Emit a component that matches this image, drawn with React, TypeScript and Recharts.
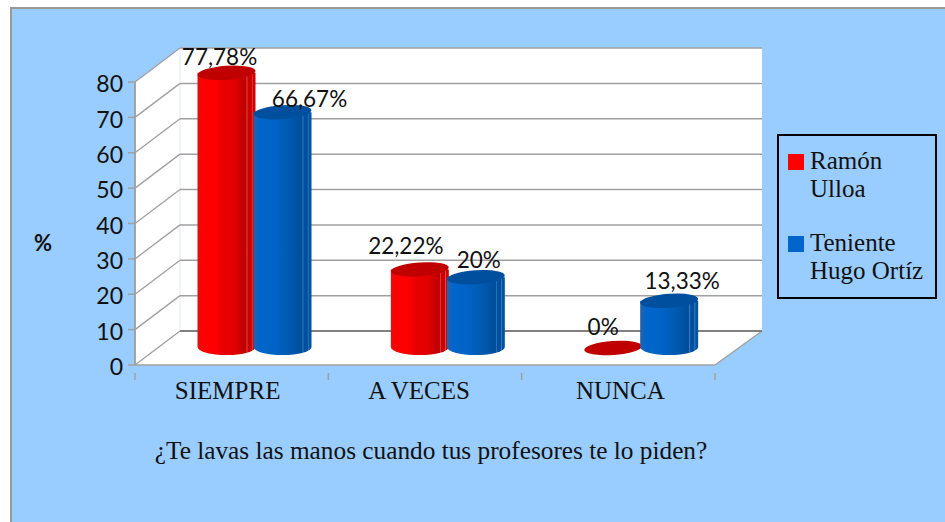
import { BarChart, Bar, XAxis, YAxis, CartesianGrid, Legend, LabelList } from 'recharts';

const categories = ['SIEMPRE', 'A VECES', 'NUNCA'];
const ramonUlloa = [77.78, 22.22, 0];
const tenienteHugo = [66.67, 20, 13.33];
const yTicks = [0, 10, 20, 30, 40, 50, 60, 70, 80];

const data = categories.map((name, i) => ({ name, ramon: ramonUlloa[i], hugo: tenienteHugo[i] }));

// 3D look: how far the back wall sits behind the front plane
const DEPTH_X = 45;
const DEPTH_Y = 34;
const GRID = '#a0a0a0';
const LATO = 'Lato, sans-serif';
const SERIF = '"Liberation Serif", serif';

function Walls({ x, y, width, height }: any) {
  const b = y + height;
  const r = x + width;
  const backR = r + DEPTH_X + 2;
  return (
    <g>
      <polygon
        points={`${x},${y} ${x + DEPTH_X},${y - DEPTH_Y} ${backR},${y - DEPTH_Y} ${backR},${b - DEPTH_Y} ${r},${b} ${x},${b}`}
        fill="#fff"
      />
      <line x1={x + DEPTH_X} y1={y - DEPTH_Y} x2={x + DEPTH_X} y2={b - DEPTH_Y} stroke="#e4e8fa" />
      <line x1={x} y1={y} x2={x} y2={b} stroke={GRID} strokeWidth={1.5} />
      <line x1={r} y1={b} x2={backR} y2={b - DEPTH_Y} stroke={GRID} strokeWidth={1.5} />
    </g>
  );
}

// one grid line runs up the left wall and then along the back wall
function gridLine(props: any) {
  const { x1, y1, x2, index, x, y, width, height } = props;
  const backY = y1 - DEPTH_Y;
  const isFloor = Math.abs(y1 - (y + height)) < 1;
  return (
    <g key={`h-${index}`}>
      {index === 0 && <Walls x={x} y={y} width={width} height={height} />}
      <line x1={x1} y1={y1} x2={x1 + DEPTH_X} y2={backY} stroke={GRID} strokeWidth={1.3} />
      <line
        x1={x1 + DEPTH_X}
        y1={backY}
        x2={x2 + DEPTH_X + 2}
        y2={backY}
        stroke={isFloor ? '#808080' : GRID}
        strokeWidth={isFloor ? 2 : 1.5}
      />
    </g>
  );
}

function Cylinder(props: any) {
  const { x, y, width, height, index, gradient, topColor } = props;
  const cx = x + width / 2 + DEPTH_X / 2;
  const rx = 29;
  const ry = 7;
  const top = y - DEPTH_Y / 2;
  const bottom = y + height - DEPTH_Y / 2;
  return (
    <g key={index}>
      {height > 1 && (
        <path
          d={`M${cx - rx},${top} L${cx - rx},${bottom - 1} A${rx},${ry + 1} 0 0 0 ${cx + rx},${bottom - 1} L${cx + rx},${top} Z`}
          fill={`url(#${gradient})`}
        />
      )}
      <ellipse cx={cx} cy={top} rx={rx} ry={ry} fill={topColor} transform={`rotate(-4 ${cx} ${top})`} />
    </g>
  );
}

// the value labels sit by hand in the original, not centred on the bars
const ramonNudge = [
  [-7, -16],
  [-14, -24],
  [-10, -22],
];
const hugoNudge = [
  [27, -14],
  [3, -18],
  [13, -20],
];
const categoryNudge = [-4, -6, 2];

function valueLabel(nudge: number[][]) {
  return (props: any) => {
    const { x, y, width, value, index } = props;
    const [dx, dy] = nudge[index];
    return (
      <text
        x={x + width / 2 + DEPTH_X / 2 + dx}
        y={y - DEPTH_Y / 2 + dy}
        textAnchor="middle"
        dominantBaseline="central"
        fontFamily={LATO}
        fontSize={22.5}
        fill="#111"
      >
        {`${String(value).replace('.', ',')}%`}
      </text>
    );
  };
}

// tick marks go on the category edges here, not on the category centres
function CategoryTick({ x, y, width, payload, index }: any) {
  const band = width / categories.length;
  const left = x - band / 2;
  const right = x + band / 2;
  return (
    <g>
      <line x1={left} y1={y} x2={left} y2={y + 7} stroke={GRID} strokeWidth={1.5} />
      {index === categories.length - 1 && (
        <line x1={right} y1={y} x2={right} y2={y + 7} stroke={GRID} strokeWidth={1.5} />
      )}
      <text
        x={x + categoryNudge[index]}
        y={y + 26}
        textAnchor="middle"
        fontFamily={SERIF}
        fontSize={25}
        fill="#111"
      >
        {payload.value}
      </text>
    </g>
  );
}

function LegendBox({ payload }: any) {
  return (
    <div
      style={{
        boxSizing: 'border-box',
        width: 160,
        height: 165,
        border: '2px solid #000',
        padding: '11px 0 0 9px',
        fontFamily: SERIF,
        fontSize: 25,
        lineHeight: '28px',
        color: '#111',
      }}
    >
      {(payload || []).map((p: any) => (
        <div key={p.value} style={{ display: 'flex', marginBottom: 26 }}>
          <span style={{ width: 16, height: 16, marginTop: 7, marginRight: 6, background: p.color, flex: 'none' }} />
          <span style={{ width: 125 }}>{p.value}</span>
        </div>
      ))}
    </div>
  );
}

function Gradients() {
  return (
    <defs>
      <linearGradient id="redBody" x1="0" y1="0" x2="1" y2="0">
        <stop offset="0" stopColor="#e01010" />
        <stop offset="0.1" stopColor="#ff0000" />
        <stop offset="0.35" stopColor="#fa0000" />
        <stop offset="0.4" stopColor="#ea0000" />
        <stop offset="0.65" stopColor="#e00000" />
        <stop offset="0.8" stopColor="#c00000" />
        <stop offset="0.84" stopColor="#c00000" />
        <stop offset="0.85" stopColor="#e85050" />
        <stop offset="0.87" stopColor="#cc0000" />
        <stop offset="0.93" stopColor="#cc0000" />
        <stop offset="0.94" stopColor="#e85050" />
        <stop offset="0.96" stopColor="#d00000" />
        <stop offset="1" stopColor="#d00000" />
      </linearGradient>
      <linearGradient id="blueBody" x1="0" y1="0" x2="1" y2="0">
        <stop offset="0" stopColor="#2a62a8" />
        <stop offset="0.1" stopColor="#0066cc" />
        <stop offset="0.4" stopColor="#0062c4" />
        <stop offset="0.65" stopColor="#0058ac" />
        <stop offset="0.8" stopColor="#004f9f" />
        <stop offset="0.84" stopColor="#004f9f" />
        <stop offset="0.85" stopColor="#3c7cc0" />
        <stop offset="0.87" stopColor="#00509f" />
        <stop offset="0.93" stopColor="#00509f" />
        <stop offset="0.94" stopColor="#3c7cc0" />
        <stop offset="0.96" stopColor="#00549f" />
        <stop offset="1" stopColor="#00549f" />
      </linearGradient>
    </defs>
  );
}

export default function App() {
  return (
    <div style={{ position: 'absolute', left: 0, top: 0, width: 945, height: 522, background: '#fff', overflow: 'hidden' }}>
      <div
        style={{
          position: 'absolute',
          left: 10,
          top: 7,
          width: 960,
          height: 540,
          background: '#99ccff',
          border: '2px solid #999',
          boxSizing: 'border-box',
        }}
      />
      <div style={{ position: 'absolute', left: 0, top: 0 }}>
        <BarChart
          width={945}
          height={522}
          data={data}
          margin={{ top: 82, right: 230, bottom: 117, left: 75 }}
          barCategoryGap={41}
          barGap={0}
        >
          <Gradients />
          <CartesianGrid vertical={false} horizontal={gridLine} />
          <XAxis
            dataKey="name"
            height={40}
            axisLine={{ stroke: GRID, strokeWidth: 1.5 }}
            tickLine={false}
            tick={CategoryTick}
            label={{
              value: '¿Te lavas las manos cuando tus profesores te lo piden?',
              position: 'bottom',
              offset: 36,
              dx: 6,
              style: { fontFamily: SERIF, fontSize: 25.3, fill: '#111' },
            }}
          />
          <YAxis
            width={60}
            domain={[0, 80]}
            ticks={yTicks}
            interval={0}
            tickSize={7}
            tickMargin={5}
            axisLine={{ stroke: GRID, strokeWidth: 1.5 }}
            tickLine={{ stroke: GRID, strokeWidth: 1.5 }}
            tick={{ fontFamily: LATO, fontSize: 23, fill: '#111', dy: 2 }}
            label={{
              value: '%',
              position: 'insideLeft',
              offset: -41,
              dy: 20,
              style: { fontFamily: LATO, fontSize: 22, fontWeight: 700, fill: '#111' },
            }}
          />
          <Legend
            layout="vertical"
            align="center"
            verticalAlign="middle"
            content={LegendBox}
            wrapperStyle={{ left: 777, top: 134, width: 160, height: 165 }}
          />
          <Bar
            dataKey="ramon"
            name="Ramón Ulloa"
            fill="#ff0000"
            isAnimationActive={false}
            shape={(p: any) => <Cylinder {...p} gradient="redBody" topColor="#c00000" />}
          >
            <LabelList dataKey="ramon" content={valueLabel(ramonNudge)} />
          </Bar>
          <Bar
            dataKey="hugo"
            name="Teniente Hugo Ortíz"
            fill="#0066cc"
            isAnimationActive={false}
            shape={(p: any) => <Cylinder {...p} gradient="blueBody" topColor="#004f9f" />}
          >
            <LabelList dataKey="hugo" content={valueLabel(hugoNudge)} />
          </Bar>
        </BarChart>
      </div>
    </div>
  );
}
